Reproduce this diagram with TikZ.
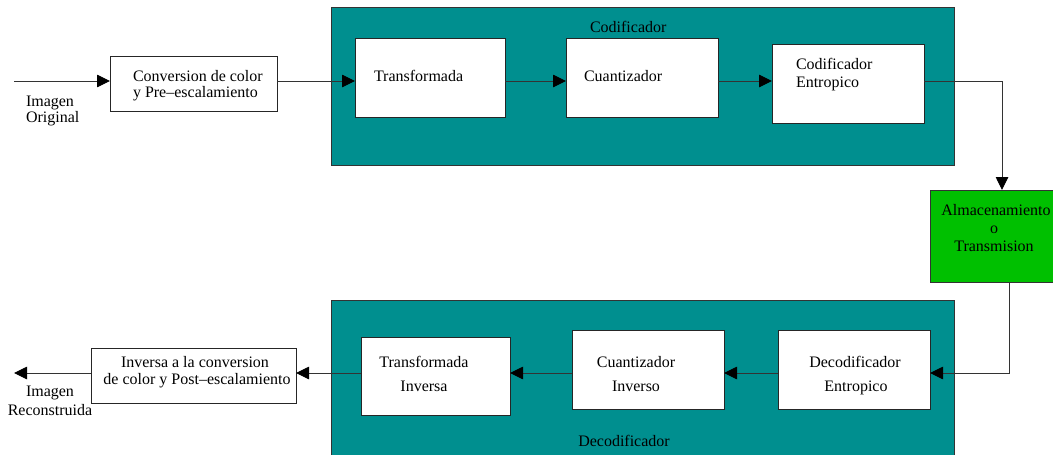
\documentclass[tikz,border=0pt]{standalone}
\usepackage{fontspec}
\setmainfont{Liberation Serif}
\usetikzlibrary{arrows.meta}
\definecolor{tealbg}{RGB}{0,143,143}
\definecolor{greenbg}{RGB}{0,192,0}
\begin{document}
\begin{tikzpicture}[x=1pt,y=-1pt,
  every node/.style={inner sep=0pt,outer sep=0pt},
  txt/.style={font=\fontsize{16}{18}\selectfont,text=black},
  wbox/.style={draw=black!85,fill=white,line width=0.9pt,rectangle},
  bigbox/.style={draw=black!80,fill=tealbg,line width=0.9pt,rectangle},
  gbox/.style={draw=black!80,fill=greenbg,line width=0.9pt,rectangle},
  arr/.style={draw=black!80,line width=0.9pt,-{Triangle[length=13pt,width=12.5pt,color=black]}}]
\useasboundingbox (0,0) rectangle (1053,455);
\fill[white] (0,0) rectangle (1053,455);
% coordinates for connector levels
\coordinate (ytop) at (0,81);
\coordinate (ybot) at (0,373);
\coordinate (rx) at (1002,0);
\coordinate (rx2) at (1009,0);
\coordinate (inA) at (14,81);
\coordinate (outA) at (14,373);
% big boxes
\node[bigbox,minimum width=623pt,minimum height=158pt] (cod) at (642.5,86) {};
\node[bigbox,minimum width=623pt,minimum height=170pt] (dec) at (642.5,385) {};
% boxes
\node[wbox,minimum width=167pt,minimum height=55pt] (conv) at (193.5,83.5) {};
\node[wbox,minimum width=150pt,minimum height=79pt] (tr) at (430,77.5) {};
\node[wbox,minimum width=152pt,minimum height=79pt] (cu) at (642,77.5) {};
\node[wbox,minimum width=152pt,minimum height=79pt] (ce) at (848,83.5) {};
\node[gbox,minimum width=130pt,minimum height=92pt] (alm) at (995,236) {};
\node[wbox,minimum width=149pt,minimum height=78pt] (ti) at (435.5,376) {};
\node[wbox,minimum width=152pt,minimum height=79pt] (ci) at (648,369.5) {};
\node[wbox,minimum width=152pt,minimum height=79pt] (de) at (854,369.5) {};
\node[wbox,minimum width=205pt,minimum height=55pt] (inv) at (193.5,375.5) {};
% connectors
\draw[arr] (inA) -- (conv.west |- inA);
\draw[arr] (conv.east |- ytop) -- (tr.west |- ytop);
\draw[arr] (tr.east |- ytop) -- (cu.west |- ytop);
\draw[arr] (cu.east |- ytop) -- (ce.west |- ytop);
\draw[arr] (ce.east |- ytop) -| (alm.north -| rx);
\draw[arr] (alm.south -| rx2) |- (de.east |- ybot);
\draw[arr] (de.west |- ybot) -- (ci.east |- ybot);
\draw[arr] (ci.west |- ybot) -- (ti.east |- ybot);
\draw[arr] (ti.west |- ybot) -- (inv.east |- ybot);
\draw[arr] (inv.west |- outA) -- (outA);
% texts top
\node[txt,anchor=base west] (t1) at (26,106) {Imagen};
\node[txt,anchor=base west] (t2) at (26,122) {Original};
\node[txt,anchor=base west] (t3) at (133,81) {Conversion de color};
\node[txt,anchor=base west] (t4) at (133,97.5) {y Pre--escalamiento};
\node[txt,anchor=base west] (t5) at (374,81.5) {Transformada};
\node[txt,anchor=base west] (t6) at (584,81.5) {Cuantizador};
\node[txt,anchor=base west] (t7) at (796,69) {Codificador};
\node[txt,anchor=base west] (t8) at (796,87) {Entropico};
\node[txt,anchor=base west] (t9) at (590,32) {Codificador};
\node[txt,anchor=base] (t10) at (996,215) {Almacenamiento};
\node[txt,anchor=base] (t11) at (994,233) {o};
\node[txt,anchor=base] (t12) at (994,251) {Transmision};
% texts bottom
\node[txt,anchor=base] (b1) at (195,367) {Inversa a la conversion};
\node[txt,anchor=base] (b2) at (197,384) {de color y Post--escalamiento};
\node[txt,anchor=base] (b3) at (50,396) {Imagen};
\node[txt,anchor=base] (b4) at (50,415) {Reconstruida};
\node[txt,anchor=base] (b5) at (424,367) {Transformada};
\node[txt,anchor=base] (b6) at (424,391) {Inversa};
\node[txt,anchor=base] (b7) at (636,367) {Cuantizador};
\node[txt,anchor=base] (b8) at (636,391) {Inverso};
\node[txt,anchor=base] (b9) at (855,367) {Decodificador};
\node[txt,anchor=base] (b10) at (856,391) {Entropico};
\node[txt,anchor=base] (b11) at (624,446) {Decodificador};
\end{tikzpicture}
\end{document}
